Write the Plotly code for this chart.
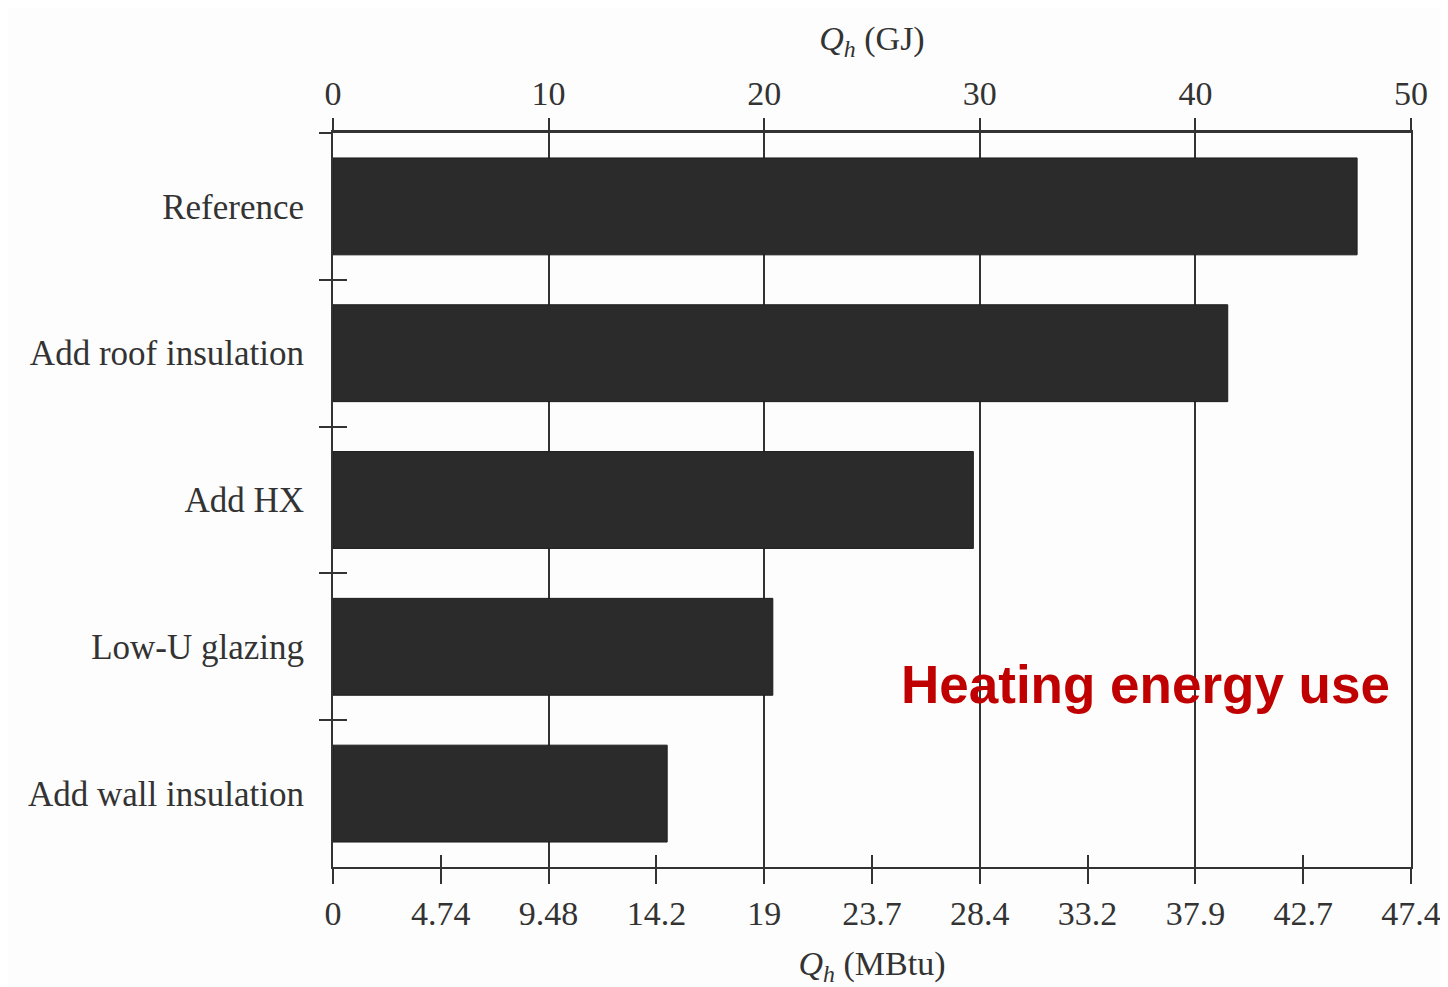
import plotly.graph_objects as go

# ---- data ----
categories = ["Reference", "Add roof insulation", "Add HX", "Low-U glazing", "Add wall insulation"]
qh_gj = [47.5, 41.5, 29.7, 20.4, 15.5]

gj_ticks = [0, 10, 20, 30, 40, 50]
mbtu_tick_pos_gj = [0, 5, 10, 15, 20, 25, 30, 35, 40, 45, 50]
mbtu_labels = ["0", "4.74", "9.48", "14.2", "19", "23.7", "28.4", "33.2", "37.9", "42.7", "47.4"]
mbtu_minor_pos_gj = [5, 15, 25, 35, 45]
boundaries = [0.5, 1.5, 2.5, 3.5]

SERIF = "Liberation Serif"
INK = "#333333"

fig = go.Figure()
# bars on the main subplot (top GJ axis carries the gridlines, drawn beneath the bars)
fig.add_trace(go.Bar(
    x=qh_gj, y=categories, orientation="h",
    xaxis="x", yaxis="y",
    marker=dict(color="#2b2b2b", line=dict(color="#1e1e1e", width=1)),
    showlegend=False, hoverinfo="x+y",
))
# invisible helper traces so that the overlaying axes (bottom MBtu axis, crossing ticks) get drawn
fig.add_trace(go.Scatter(
    x=qh_gj, y=categories, xaxis="x2", yaxis="y", mode="markers",
    marker=dict(opacity=0), showlegend=False, hoverinfo="skip",
))
fig.add_trace(go.Scatter(
    x=qh_gj, y=list(range(len(categories))), xaxis="x3", yaxis="y2", mode="markers",
    marker=dict(opacity=0), showlegend=False, hoverinfo="skip",
))

fig.update_layout(
    width=1448, height=987,
    margin=dict(l=325, r=45, t=125, b=128),
    paper_bgcolor="#fdfdfd", plot_bgcolor="#fdfdfd",
    bargap=0.34,
    font=dict(family=SERIF, color=INK),
    xaxis=dict(
        range=[0, 50], side="top",
        tickmode="array", tickvals=gj_ticks,
        ticks="outside", ticklen=12, tickwidth=1.5, tickcolor=INK,
        showline=True, linecolor=INK, linewidth=2.5,
        showgrid=True, gridcolor=INK, gridwidth=1.5, zeroline=False,
        tickfont=dict(family=SERIF, size=34, color=INK),
        title=dict(text="<i>Q<sub>h</sub></i> (GJ)", font=dict(family=SERIF, size=34, color=INK), standoff=14),
    ),
    xaxis2=dict(
        range=[0, 50], overlaying="x", side="bottom",
        tickmode="array", tickvals=mbtu_tick_pos_gj, ticktext=mbtu_labels,
        ticks="outside", ticklen=15, tickwidth=1.5, tickcolor=INK,
        showline=True, linecolor=INK, linewidth=2,
        showgrid=False, zeroline=False,
        tickfont=dict(family=SERIF, size=34, color=INK),
        title=dict(text="<i>Q<sub>h</sub></i> (MBtu)", font=dict(family=SERIF, size=34, color=INK), standoff=20),
    ),
    xaxis3=dict(
        range=[0, 50], overlaying="x", side="bottom",
        tickmode="array", tickvals=mbtu_minor_pos_gj,
        ticks="inside", ticklen=12, tickwidth=1.5, tickcolor=INK,
        showticklabels=False, showline=False, showgrid=False, zeroline=False,
    ),
    yaxis=dict(
        type="category", categoryorder="array", categoryarray=categories,
        range=[4.5, -0.5],
        ticks="outside", tickson="boundaries", ticklen=12, tickwidth=1.5, tickcolor=INK,
        showline=True, linecolor=INK, linewidth=2, mirror=True,
        showgrid=False, zeroline=False,
        tickfont=dict(family=SERIF, size=35, color=INK),
        ticklabelstandoff=20,
    ),
    yaxis2=dict(
        range=[4.5, -0.5], overlaying="y", side="left",
        tickmode="array", tickvals=boundaries,
        ticks="inside", ticklen=14, tickwidth=1.5, tickcolor=INK,
        showticklabels=False, showline=False, showgrid=False, zeroline=False,
    ),
    annotations=[dict(
        text="<b>Heating energy use</b>", xref="paper", yref="paper",
        x=0.754, y=0.248, xanchor="center", yanchor="middle", showarrow=False,
        font=dict(family="Liberation Sans", size=53, color="#c00000"),
    )],
)

fig.write_html("out.html")
